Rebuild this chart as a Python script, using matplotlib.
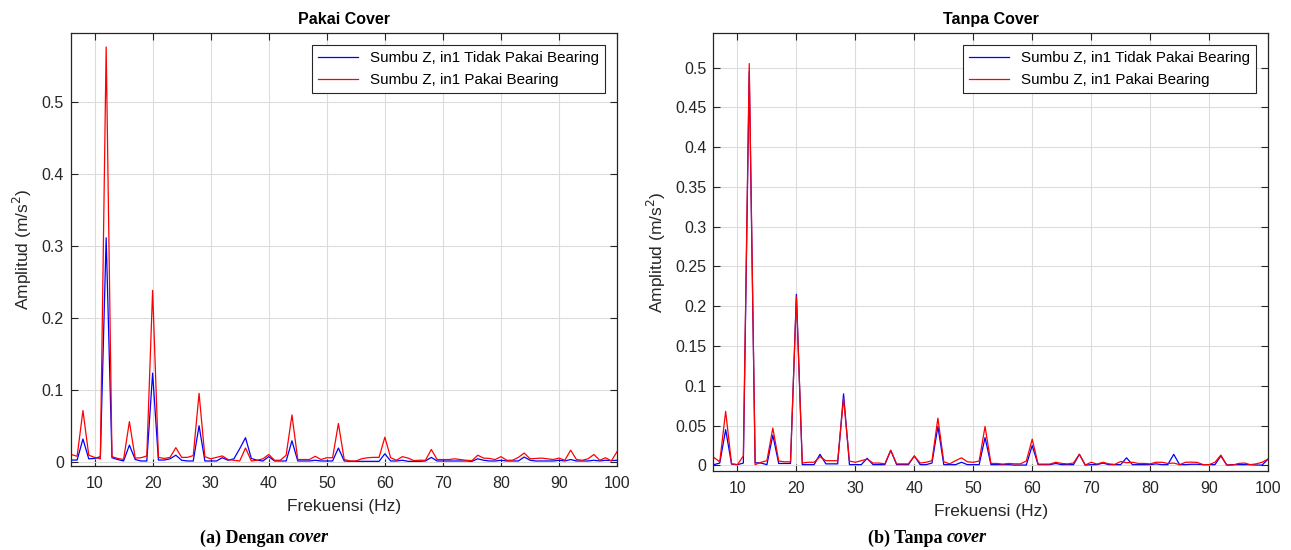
import numpy as np
import matplotlib
matplotlib.use("Agg")
import matplotlib.pyplot as plt
from matplotlib.ticker import FuncFormatter

plt.rcParams["font.family"] = ["Liberation Sans", "DejaVu Sans"]

freq = np.arange(6, 101)

# Pakai Cover
cover_no_bearing = [
    0.0023, 0.0023, 0.0315, 0.004, 0.0045, 0.007, 0.311, 0.0055, 0.003, 0.001,
    0.023, 0.003, 0.001, 0.001, 0.123, 0.0023, 0.0023, 0.004, 0.009, 0.002,
    0.001, 0.001, 0.050, 0.001, 0.001, 0.001, 0.0055, 0.002, 0.004, 0.018,
    0.0333, 0.0045, 0.002, 0.001, 0.007, 0.001, 0.001, 0.001, 0.029, 0.001,
    0.001, 0.001, 0.002, 0.001, 0.001, 0.001, 0.019, 0.001, 0.0005, 0.0005,
    0.0005, 0.0005, 0.0005, 0.0005, 0.011, 0.001, 0.001, 0.002, 0.0005, 0.0005,
    0.0005, 0.001, 0.006, 0.001, 0.001, 0.001, 0.001, 0.001, 0.001, 0.0005,
    0.004, 0.002, 0.001, 0.001, 0.002, 0.001, 0.001, 0.001, 0.0065, 0.002,
    0.001, 0.001, 0.001, 0.001, 0.002, 0.001, 0.003, 0.001, 0.001, 0.001,
    0.002, 0.001, 0.002, 0.0015, 0.002]
cover_bearing = [
    0.010, 0.0075, 0.071, 0.009, 0.006, 0.004, 0.576, 0.007, 0.0045, 0.003,
    0.0556, 0.005, 0.0055, 0.008, 0.238, 0.006, 0.0045, 0.006, 0.0195, 0.006,
    0.006, 0.0085, 0.095, 0.007, 0.004, 0.006, 0.008, 0.003, 0.002, 0.001,
    0.019, 0.001, 0.002, 0.004, 0.010, 0.002, 0.002, 0.009, 0.065, 0.003,
    0.003, 0.003, 0.0075, 0.003, 0.0055, 0.0055, 0.053, 0.003, 0.001, 0.001,
    0.004, 0.0055, 0.006, 0.006, 0.034, 0.0055, 0.002, 0.007, 0.005, 0.0015,
    0.002, 0.002, 0.017, 0.003, 0.003, 0.003, 0.004, 0.003, 0.002, 0.0015,
    0.009, 0.005, 0.0045, 0.003, 0.007, 0.002, 0.002, 0.006, 0.012, 0.004,
    0.0045, 0.005, 0.004, 0.003, 0.005, 0.002, 0.016, 0.003, 0.002, 0.004,
    0.010, 0.002, 0.0055, 0.001, 0.014]

# Tanpa Cover
nocover_no_bearing = [
    0.001, 0.003, 0.045, 0.0017, 0.001, 0.003, 0.495, 0.0035, 0.003, 0.001,
    0.038, 0.0025, 0.0025, 0.0025, 0.215, 0.001, 0.001, 0.001, 0.014, 0.002,
    0.002, 0.002, 0.090, 0.001, 0.001, 0.001, 0.009, 0.001, 0.001, 0.001,
    0.019, 0.001, 0.001, 0.001, 0.012, 0.001, 0.001, 0.003, 0.049, 0.001,
    0.001, 0.001, 0.004, 0.001, 0.001, 0.001, 0.035, 0.001, 0.001, 0.001,
    0.001, 0.0005, 0.0005, 0.0005, 0.025, 0.001, 0.001, 0.001, 0.0025, 0.001,
    0.001, 0.001, 0.014, 0.0005, 0.001, 0.001, 0.003, 0.001, 0.001, 0.001,
    0.0096, 0.001, 0.001, 0.001, 0.001, 0.002, 0.001, 0.001, 0.014, 0.001,
    0.001, 0.0015, 0.0015, 0.001, 0.001, 0.001, 0.012, 0.0005, 0.001, 0.001,
    0.001, 0.001, 0.0005, 0.0005, 0.008]
nocover_bearing = [
    0.010, 0.0046, 0.068, 0.002, 0.001, 0.012, 0.505, 0.001, 0.004, 0.006,
    0.047, 0.0055, 0.0046, 0.0046, 0.212, 0.003, 0.004, 0.004, 0.011, 0.006,
    0.006, 0.006, 0.084, 0.0055, 0.004, 0.006, 0.008, 0.003, 0.003, 0.002,
    0.019, 0.002, 0.002, 0.002, 0.0117, 0.003, 0.004, 0.006, 0.0595, 0.0046,
    0.002, 0.006, 0.0096, 0.0046, 0.004, 0.0055, 0.049, 0.0025, 0.0025, 0.0017,
    0.0025, 0.002, 0.002, 0.0055, 0.033, 0.0017, 0.0017, 0.0017, 0.004, 0.0025,
    0.002, 0.003, 0.014, 0.0005, 0.004, 0.0017, 0.004, 0.002, 0.0013, 0.005,
    0.0034, 0.004, 0.0025, 0.0025, 0.002, 0.004, 0.004, 0.0025, 0.003, 0.001,
    0.004, 0.0042, 0.0038, 0.001, 0.001, 0.004, 0.013, 0.0005, 0.0005, 0.0025,
    0.003, 0.001, 0.002, 0.004, 0.008]

labels = ["Sumbu Z, in1 Tidak Pakai Bearing", "Sumbu Z, in1 Pakai Bearing"]

fig = plt.figure(figsize=(12.91, 5.5), dpi=100)
ax1 = fig.add_axes([0.0548, 0.1527, 0.4232, 0.7867])
ax2 = fig.add_axes([0.5525, 0.1436, 0.4297, 0.7958])

panels = [
    (ax1, cover_no_bearing, cover_bearing, "Pakai Cover", (-0.006, 0.595), np.arange(0, 0.51, 0.1)),
    (ax2, nocover_no_bearing, nocover_bearing, "Tanpa Cover", (-0.007, 0.543), np.arange(0, 0.51, 0.05)),
]

for ax, blue, red, title, ylim, yt in panels:
    ax.plot(freq, blue, color="#0000ff", lw=0.9, label=labels[0])
    ax.plot(freq, red, color="#ff0000", lw=0.9, label=labels[1])
    ax.set_xlim(5.9, 100)
    ax.set_ylim(*ylim)
    ax.set_xticks(np.arange(10, 101, 10))
    ax.set_yticks(yt)
    ax.yaxis.set_major_formatter(FuncFormatter(lambda v, p: "%g" % round(v, 3)))
    ax.grid(True, color="#dcdcdc", lw=0.8)
    ax.set_axisbelow(True)
    ax.tick_params(direction="in", top=True, right=True, labelsize=11.5,
                   color="#262626", labelcolor="#262626", length=5)
    ax.tick_params(axis="x", pad=7)
    ax.tick_params(axis="y", pad=5)
    for s in ax.spines.values():
        s.set_color("#262626")
        s.set_linewidth(0.9)
    ax.set_title(title, fontsize=11.5, fontweight="bold", color="#000000", pad=7)
    ax.set_xlabel("Frekuensi (Hz)", fontsize=12.5, color="#262626", labelpad=6)
    ax.set_ylabel("Amplitud (m/s$^2$)", fontsize=12.5, color="#262626", labelpad=5)
    leg = ax.legend(loc="upper right", fontsize=10.9, fancybox=False, framealpha=1,
                    edgecolor="#262626", handlelength=2.6, borderaxespad=0.8)
    leg.get_frame().set_linewidth(0.8)

# captions under panels
cap_y = 0.022
fig.text(289 / 1291, cap_y, "(a) Dengan ", ha="right", va="center", fontsize=13,
         fontweight="bold", family="Liberation Serif")
fig.text(289 / 1291, cap_y, "cover", ha="left", va="center", fontsize=13,
         fontweight="bold", style="italic", family="Liberation Serif")
fig.text(947 / 1291, cap_y, "(b) Tanpa ", ha="right", va="center", fontsize=13,
         fontweight="bold", family="Liberation Serif")
fig.text(947 / 1291, cap_y, "cover", ha="left", va="center", fontsize=13,
         fontweight="bold", style="italic", family="Liberation Serif")

fig.savefig("out.png", dpi=100)
